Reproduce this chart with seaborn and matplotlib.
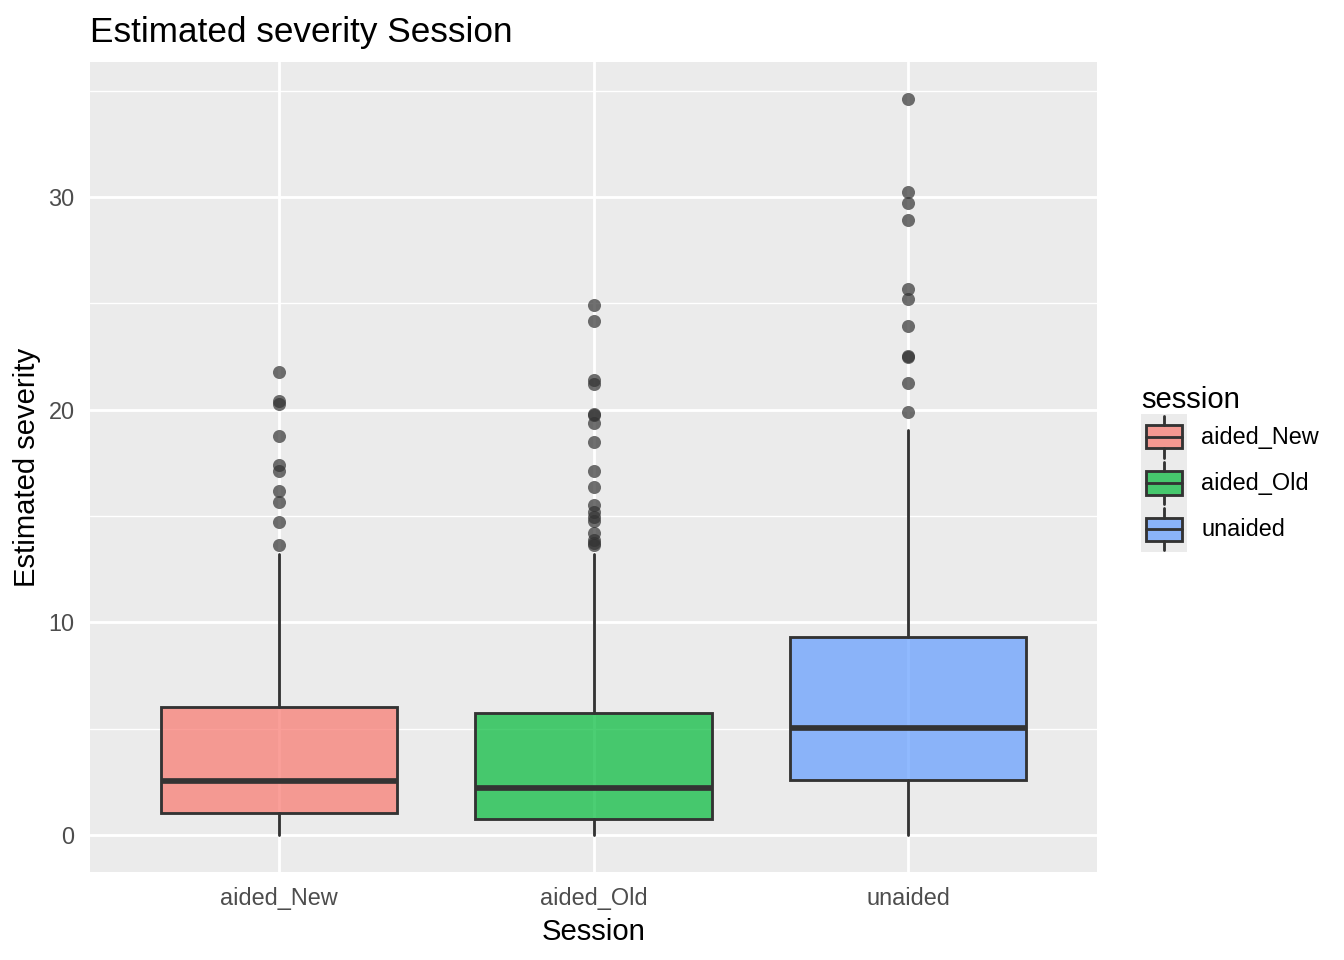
import pandas as pd
import seaborn as sns
import matplotlib
matplotlib.use("Agg")
import matplotlib.pyplot as plt
from matplotlib.patches import Rectangle
from matplotlib.lines import Line2D
from matplotlib.legend_handler import HandlerBase
from matplotlib.ticker import MultipleLocator

# box summaries
sessions = ["aided_New", "aided_Old", "unaided"]
whisker_low = [0.0, 0.0, 0.0]
q1 = [1.03, 0.75, 2.58]
median = [2.54, 2.20, 5.02]
q3 = [6.01, 5.73, 9.34]
whisker_high = [13.2, 13.24, 19.06]

# outliers
out_new = [21.77, 20.40, 20.28, 18.77, 17.42, 17.14, 16.20, 15.66, 14.72, 13.62]
out_old = [24.93, 24.18, 21.40, 21.22, 19.80, 19.74, 19.37, 18.50, 17.10, 16.36,
           15.54, 15.20, 14.95, 14.75, 14.20, 13.90, 13.72, 13.62]
out_unaided = [34.62, 30.22, 29.70, 28.90, 25.68, 25.21, 23.93, 22.55, 22.48,
               21.25, 19.89]

fills = ["#F8766D", "#00BA38", "#619CFF"]
ALPHA = 0.7
EDGE = "#333333"

sns.set_theme(style="darkgrid", rc={
    "axes.facecolor": "#EBEBEB",
    "grid.color": "white",
    "axes.edgecolor": "none",
    "xtick.color": EDGE,
    "ytick.color": EDGE,
    "text.color": "black",
    "axes.labelcolor": "black",
})
plt.rcParams["font.family"] = ["Liberation Sans", "DejaVu Sans"]

fig = plt.figure(figsize=(13.44, 9.6), dpi=100)
ax = fig.add_axes([90 / 1344, 1 - 872 / 960, (1097 - 90) / 1344, (872 - 62) / 960])

stats = []
for i, s in enumerate(sessions):
    stats.append({"label": s, "whislo": whisker_low[i], "q1": q1[i], "med": median[i],
                  "q3": q3[i], "whishi": whisker_high[i], "fliers": []})

bp = ax.bxp(stats, positions=[0, 1, 2], widths=0.75, patch_artist=True,
            showfliers=False, showcaps=False,
            boxprops=dict(edgecolor=EDGE, linewidth=2.05),
            whiskerprops=dict(color=EDGE, linewidth=2.05),
            medianprops=dict(color=EDGE, linewidth=4.1, solid_capstyle="butt"))
for patch, c in zip(bp["boxes"], fills):
    patch.set_facecolor(matplotlib.colors.to_rgba(c, ALPHA))

outliers = pd.DataFrame({
    "session": ["aided_New"] * len(out_new) + ["aided_Old"] * len(out_old)
               + ["unaided"] * len(out_unaided),
    "value": out_new + out_old + out_unaided,
})
sns.stripplot(data=outliers, x="session", y="value", order=sessions, jitter=False,
              color=EDGE, alpha=ALPHA, size=9.4, linewidth=0, ax=ax, zorder=3)

top = max(out_unaided)
span = top - 0
ax.set_ylim(0 - 0.05 * span, top + 0.05 * span)
ax.set_xlim(-0.6, 2.6)
ax.set_xticks([0, 1, 2])
ax.set_xticklabels(sessions)
ax.yaxis.set_major_locator(MultipleLocator(10))
ax.yaxis.set_minor_locator(MultipleLocator(5))
ax.set_axisbelow(True)
ax.grid(which="major", color="white", linewidth=2.05)
ax.grid(which="minor", axis="y", color="white", linewidth=1.0)
ax.grid(which="minor", axis="x", visible=False)
ax.tick_params(which="major", length=5.3, width=2.05, color=EDGE, pad=5.8,
               labelsize=16.9, labelcolor="#4D4D4D")
ax.tick_params(which="minor", length=0)
for sp in ax.spines.values():
    sp.set_visible(False)

ax.set_xlabel("Session", fontsize=21.1, color="black", labelpad=5.3)
ax.set_ylabel("Estimated severity", fontsize=21.1, color="black", labelpad=5.3)
ax.set_title("Estimated severity Session", loc="left", fontsize=25.3, pad=14.2,
             color="black")


class BoxKey(HandlerBase):
    def create_artists(self, legend, orig_handle, xdescent, ydescent, width, height,
                       fontsize, trans):
        x0, y0 = -xdescent, -ydescent
        bg = Rectangle((x0, y0), width, height, facecolor="#EBEBEB", edgecolor="none",
                       transform=trans)
        box = Rectangle((x0 + 0.1 * width, y0 + 0.25 * height), 0.8 * width, 0.5 * height,
                        facecolor=matplotlib.colors.to_rgba(orig_handle, ALPHA),
                        edgecolor=EDGE, linewidth=2.05, transform=trans)
        cx = x0 + 0.5 * width
        w1 = Line2D([cx, cx], [y0 + 0.05 * height, y0 + 0.25 * height], color=EDGE,
                    linewidth=2.05, transform=trans)
        w2 = Line2D([cx, cx], [y0 + 0.75 * height, y0 + 0.95 * height], color=EDGE,
                    linewidth=2.05, transform=trans)
        md = Line2D([x0 + 0.1 * width, x0 + 0.9 * width], [y0 + 0.5 * height] * 2,
                    color=EDGE, linewidth=2.05, transform=trans)
        return [bg, box, w1, w2, md]


leg = fig.legend(fills, sessions, handler_map={str: BoxKey()},
                 loc="center left", bbox_to_anchor=(1141 / 1344, 1 - 469 / 960),
                 frameon=False, fontsize=16.9, title="session", title_fontsize=21.1,
                 handlelength=1.96, handleheight=2.64, labelspacing=0,
                 handletextpad=0.6, borderpad=0, borderaxespad=0, alignment="left")
for t in leg.get_texts():
    t.set_color("black")
leg.get_title().set_color("black")

fig.savefig("out.png", dpi=100, facecolor="white")
